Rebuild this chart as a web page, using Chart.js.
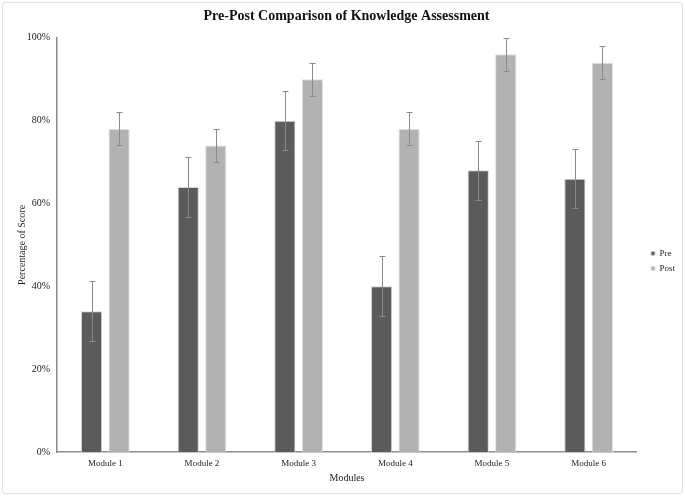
<!DOCTYPE html>
<html>
<head>
<meta charset="utf-8">
<script src="https://cdn.jsdelivr.net/npm/chart.js@4/dist/chart.umd.min.js"></script>
<style>
  html, body { margin: 0; padding: 0; background: #fff; }
  #wrap { position: relative; width: 685px; height: 496px; }
  #frame { position: absolute; left: 2px; top: 2px; width: 679px; height: 490px;
           border: 1px solid #e2e2e2; border-radius: 3px; pointer-events: none; }
</style>
</head>
<body>
<div id="wrap">
  <canvas id="knowledgeChart" width="685" height="496"></canvas>
  <div id="frame"></div>
</div>
<script>
// Modules (categories)
const modules = ['Module 1', 'Module 2', 'Module 3', 'Module 4', 'Module 5', 'Module 6'];
// Scores in percent
const preScores = [34, 64, 80, 40, 68, 66];
const postScores = [78, 74, 90, 78, 96, 94];
// Error bar half-lengths (percent)
const preErrors = [7.2, 7.2, 7.2, 7.2, 7.2, 7.2];
const postErrors = [4, 4, 4, 4, 4, 4];

const serif = "'Liberation Serif', 'Times New Roman', serif";

// vẽ error bar cho từng cột, dùng scale của chart
const errorBars = {
    id: 'errorBars',
    afterDatasetsDraw(chart) {
        const ctx = chart.ctx;
        const y = chart.scales.y;
        const errs = [preErrors, postErrors];
        ctx.save();
        ctx.strokeStyle = '#8a8a8a';
        ctx.lineWidth = 1;
        chart.data.datasets.forEach((ds, i) => {
            const meta = chart.getDatasetMeta(i);
            meta.data.forEach((bar, j) => {
                const v = ds.data[j];
                const top = Math.round(y.getPixelForValue(v + errs[i][j])) + 0.5;
                const bot = Math.round(y.getPixelForValue(v - errs[i][j])) + 0.5;
                const x = Math.round(bar.x) + 0.5;
                ctx.beginPath();
                ctx.moveTo(x, top);
                ctx.lineTo(x, bot);
                ctx.moveTo(x - 3, top);
                ctx.lineTo(x + 3, top);
                ctx.moveTo(x - 3, bot);
                ctx.lineTo(x + 3, bot);
                ctx.stroke();
            });
        });
        ctx.restore();
    }
};

const data = {
    labels: modules,
    datasets: [{
        label: 'Pre',
        data: preScores,
        backgroundColor: '#5b5b5b',
        borderColor: '#d4d4d4',
        borderWidth: 1
    }, {
        label: 'Post',
        data: postScores,
        backgroundColor: '#b2b2b2',
        borderColor: '#e0e0e0',
        borderWidth: 1
    }]
};

const config = {
    type: 'bar',
    data: data,
    plugins: [errorBars],
    options: {
        responsive: false,
        animation: false,
        layout: { padding: { left: 8, right: 0, top: 2, bottom: 12 } },
        datasets: {
            bar: { categoryPercentage: 0.57, barPercentage: 0.77 }
        },
        plugins: {
            title: {
                display: true,
                text: 'Pre-Post Comparison of Knowledge Assessment',
                color: '#111',
                font: { family: serif, size: 14, weight: 'bold' },
                padding: { top: 6, bottom: 13 }
            },
            legend: {
                position: 'right',
                title: {
                    display: true,
                    text: ' ',
                    font: { family: serif, size: 9 },
                    padding: { top: 0, bottom: 25 }
                },
                labels: {
                    color: '#222',
                    font: { family: serif, size: 9 },
                    boxWidth: 4,
                    boxHeight: 4,
                    padding: 6
                }
            },
            tooltip: { enabled: false }
        },
        scales: {
            x: {
                grid: { display: false, drawTicks: false },
                border: { color: '#8c8c8c', width: 1.5 },
                ticks: { color: '#222', font: { family: serif, size: 9 }, padding: 6 },
                title: {
                    display: true, text: 'Modules', color: '#222',
                    font: { family: serif, size: 10 }, padding: { top: 3, bottom: 0 }
                },
                afterFit(scale) { scale.height = 32; }
            },
            y: {
                min: 0,
                max: 100,
                grid: { display: false, drawTicks: false },
                border: { color: '#8c8c8c', width: 1.5 },
                ticks: {
                    stepSize: 20,
                    color: '#222',
                    font: { family: serif, size: 10 },
                    padding: 7,
                    callback: v => v + '%'
                },
                title: {
                    display: true, text: 'Percentage of Score', color: '#222',
                    font: { family: serif, size: 10 }, padding: { top: 8, bottom: 0 }
                },
                afterFit(scale) { scale.width = 49; }
            },
            // trục trống bên phải, chỉ để tạo khoảng cách với legend
            gap: {
                type: 'linear',
                position: 'right',
                grid: { display: false, drawTicks: false },
                border: { display: false },
                ticks: { display: false },
                afterFit(scale) { scale.width = 8; }
            }
        }
    }
};

window.onload = function () {
    const ctx = document.getElementById('knowledgeChart').getContext('2d');
    new Chart(ctx, config);
};
</script>
</body>
</html>
